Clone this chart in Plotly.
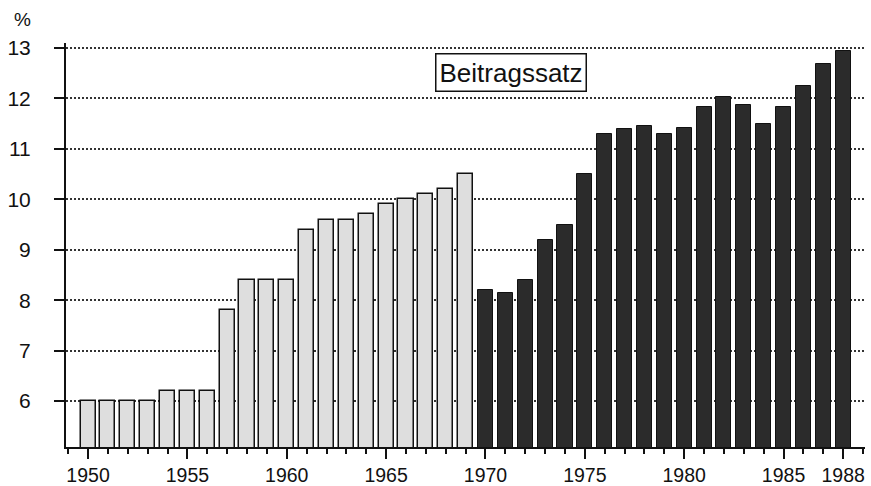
import plotly.graph_objects as go

years_early = list(range(1950, 1970))
rates_early = [6.0, 6.0, 6.0, 6.0, 6.2, 6.2, 6.2, 7.8, 8.4, 8.4,
               8.4, 9.4, 9.6, 9.6, 9.7, 9.9, 10.0, 10.1, 10.2, 10.5]
years_late = list(range(1970, 1989))
rates_late = [8.2, 8.15, 8.4, 9.2, 9.5, 10.5, 11.3, 11.4, 11.45, 11.3,
              11.42, 11.83, 12.03, 11.87, 11.49, 11.84, 12.25, 12.68, 12.95]
x_tick_vals = [1950, 1955, 1960, 1965, 1970, 1975, 1980, 1985, 1988]
x_tick_text = [str(v) for v in x_tick_vals]
y_tick_vals = [6, 7, 8, 9, 10, 11, 12, 13]

FONT = "Liberation Sans, Arial, Helvetica, sans-serif"

fig = go.Figure()
fig.add_trace(go.Bar(
    x=years_early, y=rates_early, width=0.76,
    marker=dict(color="#dedede", line=dict(color="#111111", width=1.5)),
    showlegend=False, hoverinfo="x+y"))
fig.add_trace(go.Bar(
    x=years_late, y=rates_late, width=0.76,
    marker=dict(color="#2b2b2b", line=dict(color="#111111", width=1)),
    showlegend=False, hoverinfo="x+y"))

fig.update_layout(
    width=871, height=486,
    margin=dict(l=66, r=6, t=43, b=39),
    paper_bgcolor="white", plot_bgcolor="white",
    font=dict(family=FONT, color="#111111"),
    bargap=0, barmode="overlay",
    xaxis=dict(
        range=[1948.89, 1989.1], automargin=False,
        tickmode="array", tickvals=x_tick_vals, ticktext=x_tick_text,
        ticks="outside", ticklen=10, tickwidth=1.5, tickcolor="#111111",
        minor=dict(tickmode="linear", tick0=1950, dtick=1, ticks="outside",
                   ticklen=5, tickwidth=1.5, tickcolor="#111111", showgrid=False),
        showline=True, linecolor="#111111", linewidth=2,
        showgrid=False, zeroline=False,
        tickfont=dict(size=19.5, family=FONT, color="#111111"),
    ),
    yaxis=dict(
        range=[5.09, 13.1], automargin=False,
        tickmode="array", tickvals=y_tick_vals,
        ticks="outside", ticklen=10, tickwidth=1.5, tickcolor="#111111",
        showline=True, linecolor="#111111", linewidth=2,
        showgrid=True, gridcolor="#333333", gridwidth=1.5, griddash="2px,2px",
        zeroline=False, ticklabelstandoff=19,
        tickfont=dict(size=21, family=FONT, color="#111111"),
    ),
    annotations=[
        dict(text="%", xref="paper", yref="paper",
             x=(22 - 66) / 799, y=(447 - 20) / 404,
             xanchor="center", yanchor="middle", showarrow=False,
             font=dict(size=19, family=FONT, color="#111111")),
        dict(text="Beitragssatz", xref="paper", yref="paper",
             x=(511 - 66) / 799, y=(447 - 72.5) / 404,
             xanchor="center", yanchor="middle", showarrow=False,
             bgcolor="white", bordercolor="#111111", borderwidth=1.5,
             borderpad=3,
             font=dict(size=26, family=FONT, color="#111111")),
    ],
)

fig.write_html("out.html", config={"displayModeBar": False},
               post_script="document.body.style.margin='0';")
